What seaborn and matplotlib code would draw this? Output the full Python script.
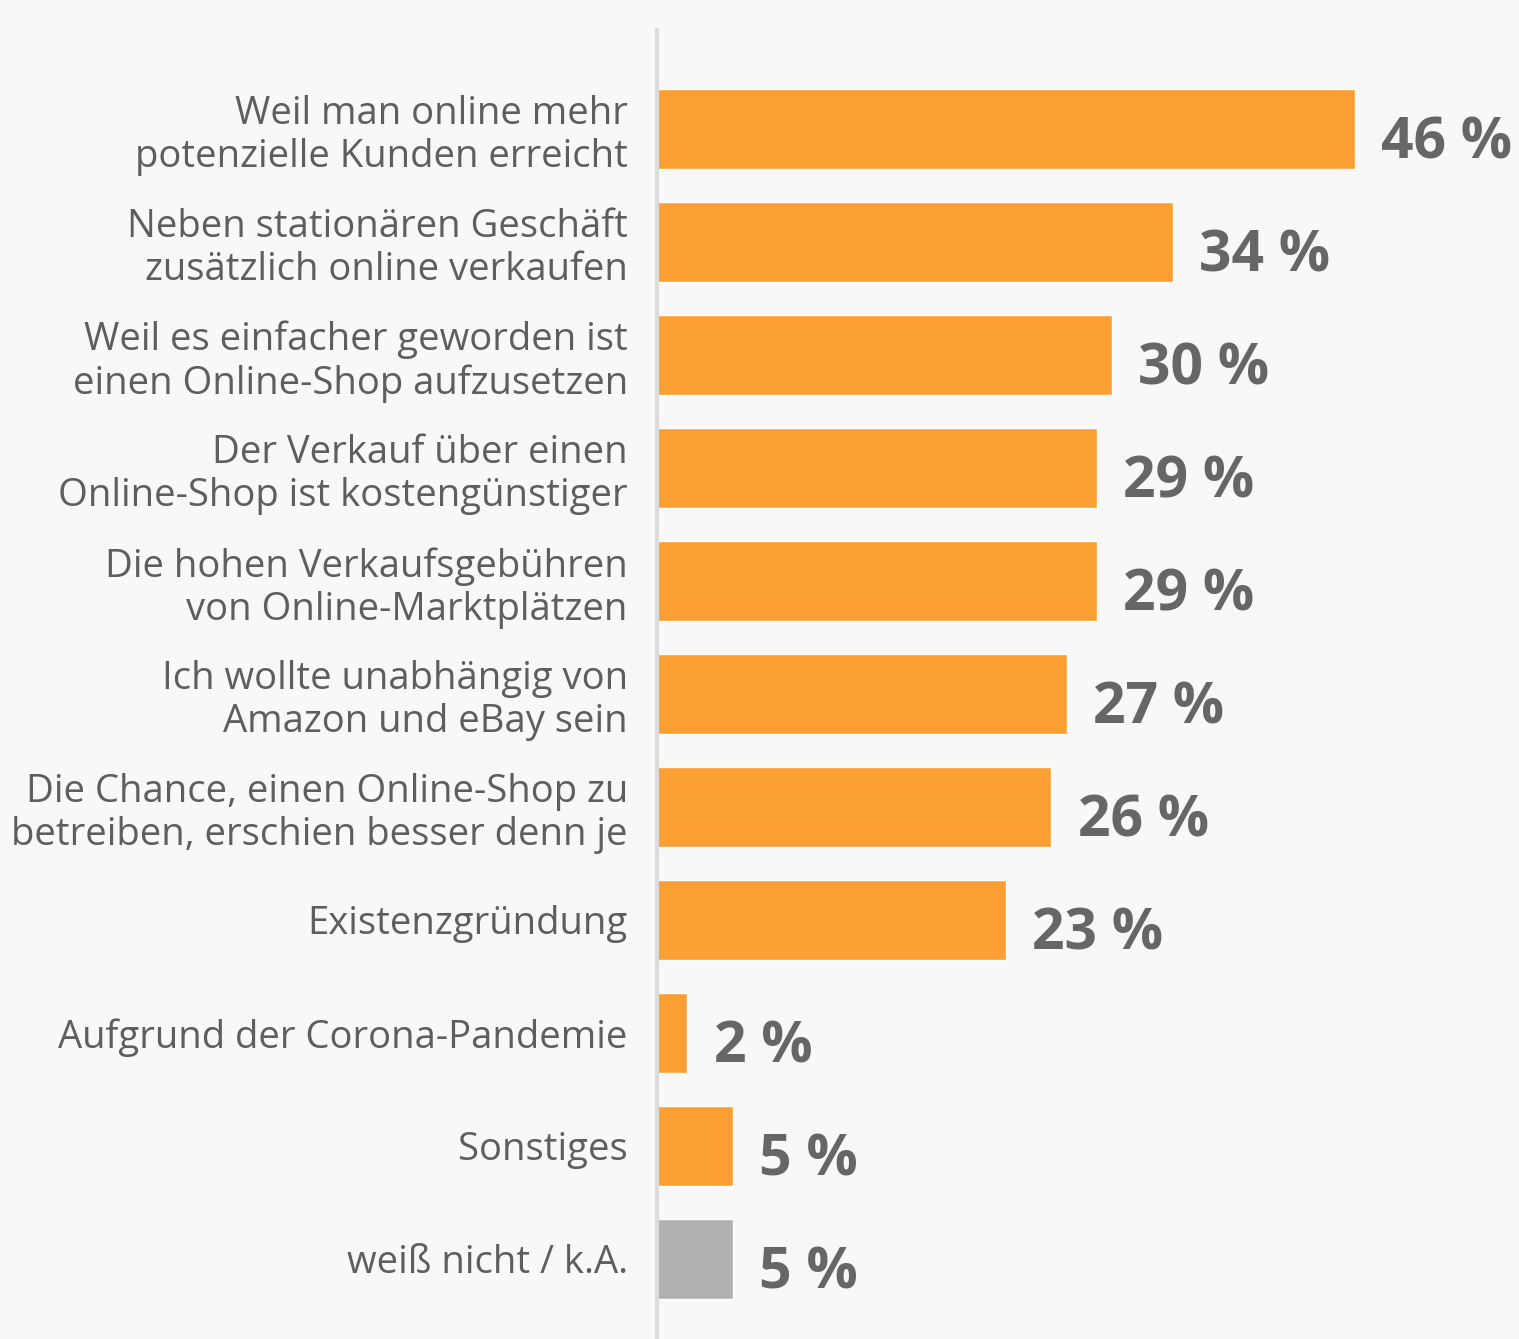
import matplotlib
matplotlib.use("Agg")
import matplotlib.pyplot as plt
import seaborn as sns
import pandas as pd

categories = [
    "Weil man online mehr\npotenzielle Kunden erreicht",
    "Neben stationären Geschäft\nzusätzlich online verkaufen",
    "Weil es einfacher geworden ist\neinen Online-Shop aufzusetzen",
    "Der Verkauf über einen\nOnline-Shop ist kostengünstiger",
    "Die hohen Verkaufsgebühren\nvon Online-Marktplätzen",
    "Ich wollte unabhängig von\nAmazon und eBay sein",
    "Die Chance, einen Online-Shop zu\nbetreiben, erschien besser denn je",
    "Existenzgründung",
    "Aufgrund der Corona-Pandemie",
    "Sonstiges",
    "weiß nicht / k.A.",
]
values = [46, 34, 30, 29, 29, 27, 26, 23, 2, 5, 5]
value_labels = ["46 %", "34 %", "30 %", "29 %", "29 %", "27 %", "26 %", "23 %", "2 %", "5 %", "5 %"]
bar_colors = ["#FC9F32"] * 10 + ["#B0B0AE"]

df = pd.DataFrame({"cat": categories, "val": values})

sns.set_theme(style="white")
plt.rcParams["font.family"] = ["Open Sans", "DejaVu Sans"]

BG = "#F8F8F8"
W, H = 1519, 1339
fig = plt.figure(figsize=(W / 100, H / 100), dpi=100, facecolor=BG)
ax = fig.add_axes([657 / W, 0, 1 - 657 / W, 1309 / H])
ax.set_facecolor(BG)

sns.barplot(data=df, x="val", y="cat", hue="cat", palette=bar_colors,
            legend=False, width=0.708, ax=ax, saturation=1)

ax.set_xlim(0, (W - 657) / 15.17)
ax.set_ylim(10.708, -0.876)
ax.set_xlabel("")
ax.set_ylabel("")
ax.set_xticks([])
for s in ["top", "right", "bottom"]:
    ax.spines[s].set_visible(False)
ax.spines["left"].set_color("#DCDCDC")
ax.spines["left"].set_linewidth(3)

ax.tick_params(axis="y", length=0, pad=21)
for lbl in ax.get_yticklabels():
    lbl.set_fontsize(27.5)
    lbl.set_color("#5E5E5E")
    lbl.set_linespacing(1.17)
    lbl.set_horizontalalignment("right")

for i, (v, t) in enumerate(zip(values, value_labels)):
    ax.annotate(t, xy=(v, i), xytext=(19, -21), textcoords="offset points",
                ha="left", va="baseline", fontsize=41, fontweight="bold",
                color="#666666")

fig.savefig("out.png", dpi=100, facecolor=BG)
